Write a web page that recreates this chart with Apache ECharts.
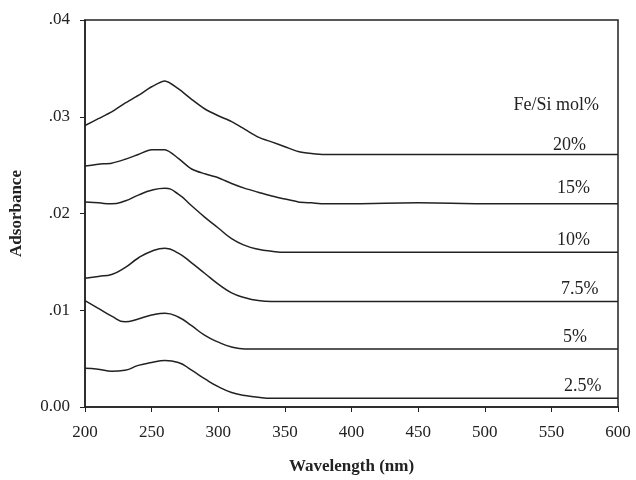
<!DOCTYPE html>
<html>
<head>
<meta charset="utf-8">
<script src="https://cdn.jsdelivr.net/npm/echarts@6/dist/echarts.min.js"></script>
<style>html,body{margin:0;padding:0;background:#fff;}#c{width:636px;height:480px;}</style>
</head>
<body>
<div id="c"></div>
<script>
const wavelengths = [200,210,220,230,240,250,260,270,280,290,300,310,320,330,340,350,360,370,380,400,450,500,550,600];
const s20  = [0.0291,0.0298,0.0305,0.0314,0.0322,0.0331,0.0337,0.0329,0.0318,0.0308,0.0301,0.0295,0.0287,0.0279,0.0274,0.0269,0.0264,0.0262,0.0261,0.0261,0.0261,0.0261,0.0261,0.0261];
const s15  = [0.0249,0.0251,0.0252,0.0256,0.0261,0.0266,0.0266,0.0257,0.0246,0.0241,0.0237,0.0231,0.0226,0.0222,0.0218,0.0215,0.0212,0.0211,0.0210,0.0210,0.0211,0.0210,0.0210,0.0210];
const s10  = [0.0212,0.0211,0.0210,0.0213,0.0219,0.0224,0.0226,0.0220,0.0208,0.0196,0.0185,0.0174,0.0167,0.0163,0.0161,0.0160,0.0160,0.0160,0.0160,0.0160,0.0160,0.0160,0.0160,0.0160];
const s75  = [0.0133,0.0135,0.0137,0.0144,0.0154,0.0161,0.0164,0.0159,0.0149,0.0138,0.0127,0.0118,0.0113,0.0110,0.0109,0.0109,0.0109,0.0109,0.0109,0.0109,0.0109,0.0109,0.0109,0.0109];
const s5   = [0.0110,0.0102,0.0094,0.0088,0.0091,0.0095,0.0097,0.0093,0.0084,0.0074,0.0067,0.0062,0.0060,0.0060,0.0060,0.0060,0.0060,0.0060,0.0060,0.0060,0.0060,0.0060,0.0060,0.0060];
const s25  = [0.0040,0.0039,0.0037,0.0038,0.0043,0.0046,0.0048,0.0046,0.0038,0.0029,0.0021,0.0015,0.0012,0.0010,0.0009,0.0009,0.0009,0.0009,0.0009,0.0009,0.0009,0.0009,0.0009,0.0009];
const seriesNames = ['20%','15%','10%','7.5%','5%','2.5%'];
const seriesValues = [s20,s15,s10,s75,s5,s25];
const legendTitle = 'Fe/Si mol%';
const xTicks = [200,250,300,350,400,450,500,550,600];
const yTicks = ['0.00','.01','.02','.03','.04'];

const font = '"Liberation Serif", "DejaVu Serif", serif';
const chart = echarts.init(document.getElementById('c'));
const series = seriesValues.map((vals, i) => ({
  name: seriesNames[i],
  type: 'line',
  data: wavelengths.map((w, j) => [w, vals[j]]),
  showSymbol: false,
  smooth: i < 2 ? 0.25 : 0.5,
  lineStyle: {color: '#222', width: 1.5},
  silent: true
}));
const labelPos = [[553,145],[557,188],[557,240],[561,289],[563,337],[564,386]];
const graphics = [{type: 'text', x: 599, y: 105, style: {text: legendTitle, font: '18px ' + font, fill: '#222', textAlign: 'right', textVerticalAlign: 'middle'}}]
  .concat(seriesNames.map((n, i) => ({type: 'text', x: labelPos[i][0], y: labelPos[i][1],
    style: {text: n, font: '18px ' + font, fill: '#222', textAlign: 'left', textVerticalAlign: 'middle'}})));
chart.setOption({
  animation: false,
  backgroundColor: '#fff',
  grid: {left: 85, right: 18, top: 20, bottom: 72, show: true, borderColor: '#222', borderWidth: 1.5},
  xAxis: {
    type: 'value', min: 200, max: 600, interval: 50,
    name: 'Wavelength (nm)', nameLocation: 'middle', nameGap: 51,
    nameTextStyle: {fontFamily: font, fontSize: 17, fontWeight: 'bold', color: '#222'},
    axisLine: {lineStyle: {color: '#222', width: 1.5}},
    axisTick: {length: 5, lineStyle: {color: '#222'}},
    axisLabel: {fontFamily: font, fontSize: 17, color: '#222', margin: 17,
      formatter: v => xTicks.includes(v) ? String(v) : ''},
    splitLine: {show: false}
  },
  yAxis: {
    type: 'value', min: 0, max: 0.04, interval: 0.01,
    name: 'Adsorbance', nameLocation: 'middle', nameGap: 60,
    nameTextStyle: {fontFamily: font, fontSize: 17, fontWeight: 'bold', color: '#222'},
    axisLine: {show: true, lineStyle: {color: '#222', width: 1.5}},
    axisTick: {show: true, length: 5, lineStyle: {color: '#222'}},
    axisLabel: {fontFamily: font, fontSize: 17, color: '#222', margin: 15,
      formatter: v => yTicks[Math.round(v * 100)]},
    splitLine: {show: false}
  },
  graphic: graphics,
  series: series
});
</script>
</body>
</html>
